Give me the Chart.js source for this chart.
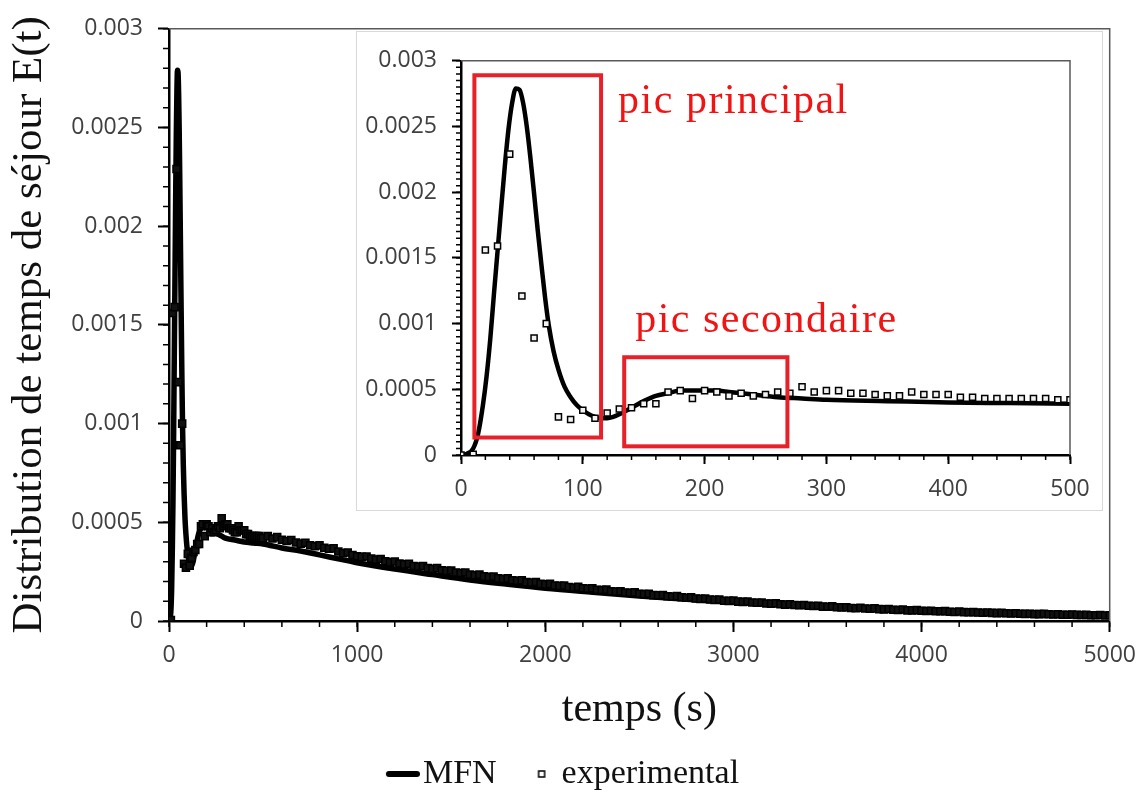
<!DOCTYPE html>
<html>
<head>
<meta charset="utf-8">
<script src="https://cdn.jsdelivr.net/npm/chart.js@4.4.1/dist/chart.umd.min.js"></script>
<style>
  html, body { margin: 0; padding: 0; background: #fff; }
  #wrap { position: relative; width: 1146px; height: 801px; }
  #main { position: absolute; left: 0; top: 0; }
  #insetBox { position: absolute; left: 356px; top: 31px; width: 745px; height: 478px;
              border: 1px solid #d9d9d9; background: #fff; }
  #inset { display: block; }
</style>
</head>
<body>
<div id="wrap">
  <canvas id="main" width="1146" height="801"></canvas>
  <div id="insetBox"><canvas id="inset" width="745" height="478"></canvas></div>
</div>
<script>
// ---- data ----
const seriesNames = ["MFN", "experimental"];
const yTitle = "Distribution de temps de séjour E(t)";
const xTitle = "temps (s)";
const yTickLabels = ["0", "0.0005", "0.001", "0.0015", "0.002", "0.0025", "0.003"];
const mainXTickLabels = ["0", "1000", "2000", "3000", "4000", "5000"];
const insetXTickLabels = ["0", "100", "200", "300", "400", "500"];

// model curve (t, E)
const mfnPoints = [
  [0, 0], [5, 0.00001], [10, 0.00005], [14, 0.00016], [18, 0.00038], [21, 0.0006],
  [24, 0.00088], [27, 0.00122], [30, 0.00155], [33, 0.00188], [36, 0.0022], [39, 0.00248],
  [42, 0.00268], [45, 0.00279], [48, 0.00278], [51, 0.00268], [54, 0.0025], [57, 0.00226],
  [60, 0.00199], [63, 0.00171], [66, 0.00145], [69, 0.0012], [72, 0.00099], [76, 0.00079],
  [80, 0.00065], [85, 0.00052], [90, 0.00044], [95, 0.00038], [100, 0.00034], [105, 0.00031],
  [110, 0.00029], [115, 0.00028], [120, 0.00028], [125, 0.00029], [130, 0.00031], [140, 0.00036],
  [150, 0.00041], [160, 0.00045], [170, 0.00047], [180, 0.00049], [190, 0.00049], [200, 0.00049],
  [210, 0.00049], [220, 0.00048], [240, 0.00046], [260, 0.00044], [280, 0.00043], [300, 0.00042],
  [350, 0.00041], [400, 0.0004], [450, 0.000395], [500, 0.00039], [600, 0.00037], [700, 0.000355],
  [800, 0.000335], [900, 0.000315], [1000, 0.000295], [1200, 0.000263], [1400, 0.000235],
  [1600, 0.000208], [1800, 0.000186], [2000, 0.000166], [2250, 0.000146], [2500, 0.000127],
  [2750, 0.00011], [3000, 0.000095], [3250, 0.000081], [3500, 0.000068], [3750, 0.000058],
  [4000, 0.000049], [4250, 0.000042], [4500, 0.000036], [4750, 0.000031], [5000, 0.000027]
];

// measured points (t, E)
const expPoints = [
  [0, 0], [10, 0.000005], [20, 0.00156], [30, 0.00159], [40, 0.00229], [50, 0.00121],
  [60, 0.00089], [70, 0.001], [80, 0.00029], [90, 0.00027], [100, 0.00034], [110, 0.00028],
  [120, 0.00032], [130, 0.00035], [140, 0.00036], [150, 0.00039], [160, 0.00039], [170, 0.00048],
  [180, 0.00049], [190, 0.00043], [200, 0.00049], [210, 0.00048], [220, 0.00045], [230, 0.00047],
  [240, 0.00045], [250, 0.00046], [260, 0.00048], [270, 0.00047], [280, 0.00052], [290, 0.00048],
  [300, 0.00049], [310, 0.00049], [320, 0.00047], [330, 0.00047], [340, 0.00046], [350, 0.00045],
  [360, 0.00045], [370, 0.00048], [380, 0.00046], [390, 0.00046], [400, 0.00046], [410, 0.00044],
  [420, 0.00044], [430, 0.00043], [440, 0.00043], [450, 0.00043], [460, 0.00043], [470, 0.00043],
  [480, 0.00043], [490, 0.00042], [500, 0.00042],
  [525, 0.00043], [550, 0.000418], [575, 0.000425], [600, 0.000412], [625, 0.000405], [650, 0.00041],
  [675, 0.000398], [700, 0.000392], [725, 0.000396], [750, 0.000384], [775, 0.000379], [800, 0.000383],
  [825, 0.000371], [850, 0.000366], [875, 0.000368], [900, 0.000352], [925, 0.000344], [950, 0.000347],
  [975, 0.000334], [1000, 0.000328], [1025, 0.000325], [1050, 0.000327], [1075, 0.000316], [1100, 0.000311],
  [1125, 0.000314], [1150, 0.000303], [1175, 0.000298], [1200, 0.000301], [1225, 0.000291], [1250, 0.000287],
  [1275, 0.00029], [1300, 0.000279], [1325, 0.000276], [1350, 0.000279], [1375, 0.000268], [1400, 0.000264],
  [1425, 0.000268], [1450, 0.000257], [1475, 0.000254], [1500, 0.000256], [1525, 0.000246], [1550, 0.000243],
  [1575, 0.000246], [1600, 0.000236], [1625, 0.000232], [1650, 0.000235], [1675, 0.000226], [1700, 0.000223],
  [1725, 0.000225], [1750, 0.000216], [1775, 0.000213], [1800, 0.000216], [1825, 0.000206], [1850, 0.000204],
  [1875, 0.000206], [1900, 0.000197], [1925, 0.000195], [1950, 0.000198], [1975, 0.000188], [2000, 0.000186],
  [2025, 0.000188], [2050, 0.00018], [2075, 0.000178], [2100, 0.00018], [2125, 0.000172], [2150, 0.00017],
  [2175, 0.000173], [2200, 0.000166], [2225, 0.000164], [2250, 0.000166], [2275, 0.000158], [2300, 0.000157],
  [2325, 0.000159], [2350, 0.000151], [2375, 0.000149], [2400, 0.000151], [2425, 0.000144], [2450, 0.000143],
  [2475, 0.000145], [2500, 0.000138], [2525, 0.000136], [2550, 0.000138], [2575, 0.000131], [2600, 0.00013],
  [2625, 0.000132], [2650, 0.000125], [2675, 0.000124], [2700, 0.000126], [2725, 0.00012], [2750, 0.000118],
  [2775, 0.00012], [2800, 0.000114], [2825, 0.000112], [2850, 0.000114], [2875, 0.000109], [2900, 0.000107],
  [2925, 0.000109], [2950, 0.000103], [2975, 0.000102], [3000, 0.000104], [3025, 0.000098], [3050, 0.000097],
  [3075, 0.000099], [3100, 0.000094], [3125, 0.000092], [3150, 0.000094], [3175, 0.000089], [3200, 0.000088],
  [3225, 0.00009], [3250, 0.000085], [3275, 0.000083], [3300, 0.000085], [3325, 0.000081], [3350, 0.00008],
  [3375, 0.000081], [3400, 0.000077], [3425, 0.000076], [3450, 0.000077], [3475, 0.000073], [3500, 0.000072],
  [3525, 0.000074], [3550, 0.00007], [3575, 0.000069], [3600, 0.00007], [3625, 0.000066], [3650, 0.000065],
  [3675, 0.000067], [3700, 0.000063], [3725, 0.000062], [3750, 0.000064], [3775, 0.00006], [3800, 0.000059],
  [3825, 0.000061], [3850, 0.000057], [3875, 0.000056], [3900, 0.000058], [3925, 0.000054], [3950, 0.000054],
  [3975, 0.000055], [4000, 0.000052], [4025, 0.000051], [4050, 0.000052], [4075, 0.000049], [4100, 0.000049],
  [4125, 0.00005], [4150, 0.000047], [4175, 0.000046], [4200, 0.000048], [4225, 0.000045], [4250, 0.000044],
  [4275, 0.000045], [4300, 0.000043], [4325, 0.000042], [4350, 0.000043], [4375, 0.000041], [4400, 0.00004],
  [4425, 0.000041], [4450, 0.000039], [4475, 0.000038], [4500, 0.000039], [4525, 0.000037], [4550, 0.000036],
  [4575, 0.000037], [4600, 0.000035], [4625, 0.000035], [4650, 0.000036], [4675, 0.000034], [4700, 0.000033],
  [4725, 0.000034], [4750, 0.000032], [4775, 0.000032], [4800, 0.000033], [4825, 0.000031], [4850, 0.00003],
  [4875, 0.000031], [4900, 0.000029], [4925, 0.000029], [4950, 0.00003], [4975, 0.000028], [5000, 0.000029]
];

// red call-outs on the inset, in data units
const calloutBoxes = [
  { x0: 11, x1: 115, y0: 0.000133, y1: 0.00289 },
  { x0: 134, x1: 268, y0: 0.000066, y1: 0.000744 }
];
const calloutTexts = [
  { text: "pic principal", x: 129, y: 0.0026 },
  { text: "pic secondaire", x: 143, y: 0.000936 }
];

const Y_STEP = 0.0005;
const TICK_FONT = { family: "'Open Sans'", size: 23 };
const TICK_COLOR = "#404040";
const SERIF = "'Liberation Serif', 'Times New Roman', serif";

const toXY = (arr) => arr.map((p) => ({ x: p[0], y: p[1] }));

// top/right frame + minor tick marks
const axisDecor = {
  id: "axisDecor",
  afterDraw(chart, args, o) {
    const { ctx, chartArea: a } = chart;
    const xs = chart.scales.x;
    const ys = chart.scales.y;
    ctx.save();
    ctx.strokeStyle = "#595959";
    ctx.lineWidth = 1.5;
    ctx.beginPath();
    ctx.moveTo(a.left, a.top);
    ctx.lineTo(a.right, a.top);
    ctx.lineTo(a.right, a.bottom);
    ctx.stroke();

    ctx.strokeStyle = "#000";
    ctx.lineWidth = o.width;
    ctx.beginPath();
    const nx = Math.round((xs.max - xs.min) / o.xStep);
    for (let i = 0; i <= nx; i++) {
      const px = xs.getPixelForValue(xs.min + i * o.xStep);
      ctx.moveTo(px, a.bottom);
      ctx.lineTo(px, a.bottom + o.len);
    }
    const ny = Math.round((ys.max - ys.min) / o.yStep);
    for (let i = 0; i <= ny; i++) {
      const py = ys.getPixelForValue(ys.min + i * o.yStep);
      ctx.moveTo(a.left, py);
      ctx.lineTo(a.left - o.len, py);
    }
    ctx.stroke();
    ctx.restore();
  },
};

const callouts = {
  id: "callouts",
  afterDatasetsDraw(chart, args, o) {
    if (!o.enabled) return;
    const { ctx } = chart;
    const xs = chart.scales.x;
    const ys = chart.scales.y;
    ctx.save();
    ctx.strokeStyle = "#e8202a";
    ctx.lineWidth = 4;
    calloutBoxes.forEach((b) => {
      const l = xs.getPixelForValue(b.x0), r = xs.getPixelForValue(b.x1);
      const t = ys.getPixelForValue(b.y1), bt = ys.getPixelForValue(b.y0);
      ctx.strokeRect(l, t, r - l, bt - t);
    });
    ctx.fillStyle = "#f01414";
    ctx.font = "42px " + SERIF;
    ctx.textBaseline = "alphabetic";
    ctx.textAlign = "left";
    if ("letterSpacing" in ctx) ctx.letterSpacing = "1.5px";
    calloutTexts.forEach((c) => {
      ctx.fillText(c.text, xs.getPixelForValue(c.x), ys.getPixelForValue(c.y));
    });
    ctx.restore();
  },
};

// legend swatches: thick line and small square, shifted right inside a wider canvas
const makeSwatch = (kind) => {
  const c = document.createElement("canvas");
  c.width = 62;
  c.height = 12;
  const g = c.getContext("2d");
  if (kind === "line") {
    g.fillStyle = "#000";
    g.beginPath();
    g.roundRect(28, 3, 34, 6, 3);
    g.fill();
  } else {
    g.fillStyle = "#fff";
    g.strokeStyle = "#000";
    g.lineWidth = 1.5;
    g.fillRect(42, 3, 6, 6);
    g.strokeRect(42, 3, 6, 6);
  }
  return c;
};
const swatches = [makeSwatch("line"), makeSwatch("square")];

const makeDatasets = (lineWidth, pointFill, pointRadius) => [
  {
    label: seriesNames[0],
    data: toXY(mfnPoints),
    borderColor: "#000",
    backgroundColor: "#000",
    borderWidth: lineWidth,
    pointRadius: 0,
    cubicInterpolationMode: "monotone",
    showLine: true,
    order: 2,
  },
  {
    label: seriesNames[1],
    data: toXY(expPoints),
    showLine: false,
    pointStyle: "rect",
    pointRadius: pointRadius,
    borderColor: "#000",
    backgroundColor: pointFill,
    pointBorderWidth: 1.5,
    order: 1,
  },
];

const makeChart = (canvasId, cfg) => {
  const xScale = {
    type: "linear",
    min: 0,
    max: cfg.xMax,
    ticks: {
      stepSize: cfg.xMax / 5,
      color: TICK_COLOR,
      font: TICK_FONT,
      padding: cfg.xTickPad,
      maxRotation: 0,
      autoSkip: false,
      callback: (v) => cfg.xLabels[Math.round(v / (cfg.xMax / 5))],
    },
    grid: {
      display: true,
      drawOnChartArea: false,
      drawTicks: true,
      tickLength: cfg.tickLen,
      tickWidth: 2,
      tickColor: "#000",
    },
    border: { display: true, color: "#000", width: 2.5 },
    title: cfg.xTitle
      ? { display: true, text: cfg.xTitle, color: "#111", font: { family: SERIF, size: 42 }, padding: { top: 0, bottom: 8 } }
      : { display: false },
    afterFit: (s) => { s.height = cfg.xAxisH; },
  };
  const yScale = {
    type: "linear",
    min: 0,
    max: 0.003,
    ticks: {
      stepSize: Y_STEP,
      color: TICK_COLOR,
      font: TICK_FONT,
      padding: cfg.yTickPad,
      autoSkip: false,
      callback: (v) => yTickLabels[Math.round(v / Y_STEP)],
    },
    grid: {
      display: true,
      drawOnChartArea: false,
      drawTicks: true,
      tickLength: cfg.tickLen,
      tickWidth: 2,
      tickColor: "#000",
    },
    border: { display: true, color: "#000", width: 2.5 },
    title: cfg.yTitle
      ? { display: true, text: cfg.yTitle, color: "#111", font: { family: SERIF, size: 43 }, padding: { top: 4, bottom: 0 } }
      : { display: false },
    afterFit: (s) => { s.width = cfg.yAxisW; },
  };

  return new Chart(document.getElementById(canvasId).getContext("2d"), {
    type: "scatter",
    data: { datasets: makeDatasets(cfg.lineWidth, cfg.pointFill, cfg.pointRadius) },
    options: {
      responsive: false,
      animation: false,
      layout: { padding: cfg.padding },
      scales: { x: xScale, y: yScale },
      plugins: {
        tooltip: { enabled: false },
        legend: cfg.legend
          ? {
              display: true,
              position: "bottom",
              labels: {
                usePointStyle: true,
                boxWidth: 34,
                boxHeight: 34,
                padding: 14,
                color: "#111",
                font: { family: SERIF, size: 34 },
                sort: (a, b) => a.datasetIndex - b.datasetIndex,
                generateLabels: (chart) => {
                  const items = Chart.defaults.plugins.legend.labels.generateLabels(chart);
                  items.forEach((it) => { it.pointStyle = swatches[it.datasetIndex]; });
                  return items;
                },
              },
            }
          : { display: false },
        axisDecor: cfg.decor,
        callouts: { enabled: !!cfg.callouts },
      },
    },
    plugins: [axisDecor, callouts],
  });
};

makeChart("main", {
  xMax: 5000,
  xLabels: mainXTickLabels,
  xTitle: xTitle,
  yTitle: yTitle,
  xTickPad: 10,
  yTickPad: 15,
  tickLen: 11,
  xAxisH: 122,
  yAxisW: 169,
  lineWidth: 5.5,
  pointFill: "#111",
  pointRadius: 5,
  legend: true,
  padding: { top: 20, right: 35, left: 0, bottom: 0 },
  decor: { xStep: 200, yStep: 0.0001, len: 6, width: 1.5 },
});

makeChart("inset", {
  xMax: 500,
  xLabels: insetXTickLabels,
  xTickPad: 12,
  yTickPad: 15,
  tickLen: 9,
  xAxisH: 55,
  yAxisW: 104,
  lineWidth: 4.5,
  pointFill: "#f2f2f2",
  pointRadius: 4.3,
  legend: false,
  callouts: true,
  padding: { top: 16, right: 32, left: 0, bottom: 0 },
  decor: { xStep: 20, yStep: 0.00005, len: 5, width: 1.5 },
});
</script>
</body>
</html>
